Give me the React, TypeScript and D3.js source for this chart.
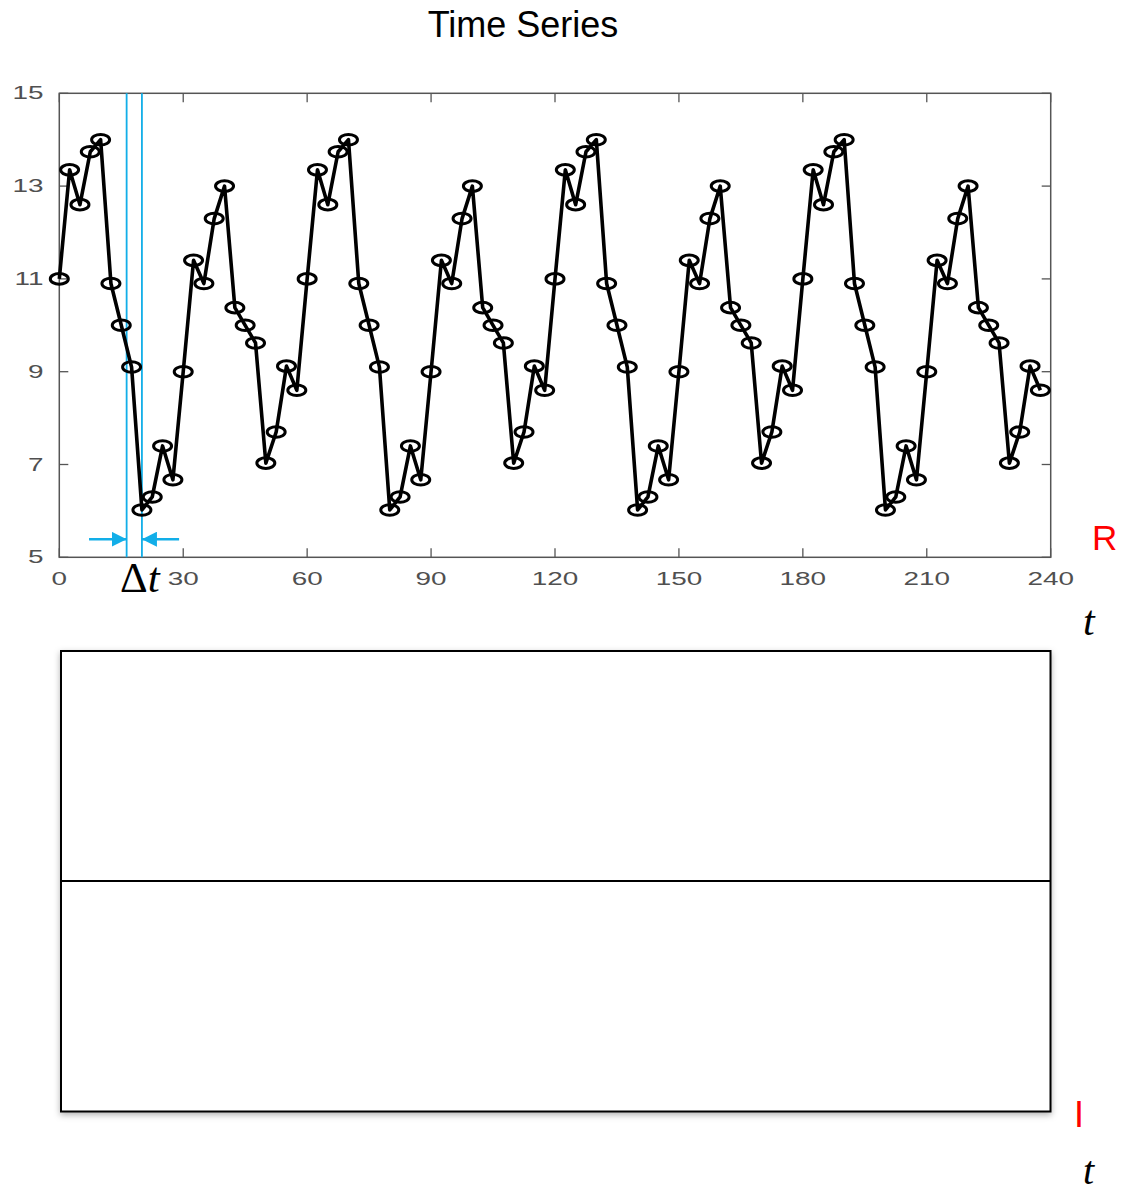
import * as React from 'react';
import * as d3 from 'd3';

// sample times (every 2.5 units) and the R values
const tValues = d3.range(0, 240, 2.5);
const rValues = [
  11.0, 13.35, 12.6, 13.74, 14.0, 10.9, 10.0, 9.1, 6.02, 6.3, 7.4, 6.67,
  9.0, 11.4, 10.9, 12.3, 13.0, 10.38, 10.0, 9.62, 7.03, 7.7, 9.12, 8.6,
  11.0, 13.35, 12.6, 13.74, 14.0, 10.9, 10.0, 9.1, 6.02, 6.3, 7.4, 6.67,
  9.0, 11.4, 10.9, 12.3, 13.0, 10.38, 10.0, 9.62, 7.03, 7.7, 9.12, 8.6,
  11.0, 13.35, 12.6, 13.74, 14.0, 10.9, 10.0, 9.1, 6.02, 6.3, 7.4, 6.67,
  9.0, 11.4, 10.9, 12.3, 13.0, 10.38, 10.0, 9.62, 7.03, 7.7, 9.12, 8.6,
  11.0, 13.35, 12.6, 13.74, 14.0, 10.9, 10.0, 9.1, 6.02, 6.3, 7.4, 6.67,
  9.0, 11.4, 10.9, 12.3, 13.0, 10.38, 10.0, 9.62, 7.03, 7.7, 9.12, 8.6,
];
const xTicks = [0, 30, 60, 90, 120, 150, 180, 210, 240];
const yTicks = [5, 7, 9, 11, 13, 15];
const deltaLines = [16.3, 20];
const arrowLevel = 5.39;
const arrowStarts = [7.2, 29];

const App = () => {
  const ref = React.useRef<SVGSVGElement>(null);

  React.useEffect(() => {
    const svg = d3.select(ref.current);
    svg.selectAll('*').remove();

    const left = 59.3, right = 1050.7, top = 93.3, bottom = 557.3;
    const x = d3.scaleLinear().domain([0, 240]).range([left, right]);
    const y = d3.scaleLinear().domain([5, 15]).range([bottom, top]);
    const axisColor = '#555';
    const blue = '#12aee8';
    const tick = 9;

    const defs = svg.append('defs');
    defs.append('filter').attr('id', 'shadow')
      .attr('x', '-5%').attr('y', '-5%').attr('width', '110%').attr('height', '110%')
      .append('feDropShadow')
      .attr('dx', 0).attr('dy', 2.5).attr('stdDeviation', 3)
      .attr('flood-color', '#000').attr('flood-opacity', 0.3);
    defs.append('marker').attr('id', 'head')
      .attr('viewBox', '0 0 10 10').attr('refX', 10).attr('refY', 5)
      .attr('markerWidth', 15).attr('markerHeight', 15)
      .attr('markerUnits', 'userSpaceOnUse').attr('orient', 'auto')
      .append('path').attr('d', 'M0,0L10,5L0,10Z').attr('fill', blue);

    // title
    svg.append('text')
      .attr('x', 523).attr('y', 37)
      .attr('text-anchor', 'middle')
      .attr('font-family', 'Liberation Sans, Arial, sans-serif')
      .attr('font-size', 36)
      .text('Time Series');

    // axes box
    svg.append('rect')
      .attr('x', left).attr('y', top)
      .attr('width', right - left).attr('height', bottom - top)
      .attr('fill', 'none').attr('stroke', axisColor).attr('stroke-width', 1.5);

    const tk = svg.append('g').attr('stroke', axisColor).attr('stroke-width', 1.3);
    xTicks.forEach(d => {
      tk.append('line').attr('x1', x(d)).attr('x2', x(d)).attr('y1', bottom).attr('y2', bottom - tick);
      tk.append('line').attr('x1', x(d)).attr('x2', x(d)).attr('y1', top).attr('y2', top + tick);
    });
    yTicks.forEach(d => {
      tk.append('line').attr('x1', left).attr('x2', left + tick).attr('y1', y(d)).attr('y2', y(d));
      tk.append('line').attr('x1', right).attr('x2', right - tick).attr('y1', y(d)).attr('y2', y(d));
    });

    const labels = svg.append('g')
      .attr('font-family', 'Liberation Sans, Arial, sans-serif')
      .attr('font-size', 18)
      .attr('fill', '#505050');
    labels.selectAll('text.xl')
      .data(xTicks)
      .enter().append('text')
      .attr('class', 'xl')
      .attr('text-anchor', 'middle')
      .attr('transform', d => `translate(${x(d)},584.5) scale(1.55,1)`)
      .text(d => d);
    labels.selectAll('text.yl')
      .data(yTicks)
      .enter().append('text')
      .attr('class', 'yl')
      .attr('text-anchor', 'end')
      .attr('transform', d => `translate(43.5,${y(d) + 6}) scale(1.55,1)`)
      .text(d => d);

    // delta t guides
    svg.append('g').selectAll('line')
      .data(deltaLines)
      .enter().append('line')
      .attr('x1', d => x(d)).attr('x2', d => x(d))
      .attr('y1', top).attr('y2', bottom)
      .attr('stroke', blue).attr('stroke-width', 1.8);
    svg.append('g').selectAll('line')
      .data(arrowStarts)
      .enter().append('line')
      .attr('x1', d => x(d))
      .attr('x2', (d, i) => x(deltaLines[i]))
      .attr('y1', y(arrowLevel)).attr('y2', y(arrowLevel))
      .attr('stroke', blue).attr('stroke-width', 2.5)
      .attr('marker-end', 'url(#head)');

    // series
    const pts = tValues.map((t, i) => [t, rValues[i]] as [number, number]);
    const line = d3.line<[number, number]>().x(d => x(d[0])).y(d => y(d[1]));
    svg.append('path')
      .datum(pts)
      .attr('d', line)
      .attr('fill', 'none')
      .attr('stroke', '#000')
      .attr('stroke-width', 3.6)
      .attr('stroke-linejoin', 'round');
    svg.append('g').selectAll('ellipse')
      .data(pts)
      .enter().append('ellipse')
      .attr('cx', d => x(d[0])).attr('cy', d => y(d[1]))
      .attr('rx', 9).attr('ry', 5.3)
      .attr('fill', 'none').attr('stroke', '#000').attr('stroke-width', 3);

    // Δt label
    const dt = svg.append('text')
      .attr('x', 120).attr('y', 591.5)
      .attr('font-family', 'Liberation Serif, Times New Roman, serif')
      .attr('font-size', 43);
    dt.append('tspan').text('Δ');
    dt.append('tspan').attr('font-style', 'italic').text('t');

    const red = '#ff0000';
    svg.append('text').attr('x', 1092).attr('y', 550)
      .attr('font-family', 'Liberation Sans, Arial, sans-serif')
      .attr('font-size', 35).attr('fill', red).text('R');
    svg.append('text').attr('x', 1083).attr('y', 635)
      .attr('font-family', 'Liberation Serif, Times New Roman, serif')
      .attr('font-style', 'italic')
      .attr('font-size', 42).text('t');

    // empty lower panel
    const panel = svg.append('g').attr('filter', 'url(#shadow)')
      .attr('fill', 'none').attr('stroke', '#000').attr('stroke-width', 2);
    panel.append('rect')
      .attr('x', 61).attr('y', 651)
      .attr('width', 1050.5 - 61).attr('height', 1111.5 - 651)
      .attr('fill', '#fff');
    panel.append('line')
      .attr('x1', 61).attr('x2', 1050.5)
      .attr('y1', 881).attr('y2', 881);

    svg.append('text').attr('x', 1079).attr('y', 1127)
      .attr('text-anchor', 'middle')
      .attr('font-family', 'Liberation Sans, Arial, sans-serif')
      .attr('font-size', 36).attr('fill', red).text('I');
    svg.append('text').attr('x', 1083).attr('y', 1184)
      .attr('font-family', 'Liberation Serif, Times New Roman, serif')
      .attr('font-style', 'italic')
      .attr('font-size', 40).text('t');
  }, []);

  return (
    <svg ref={ref} width={1122} height={1194}
      style={{position: 'absolute', left: 0, top: 0, background: '#fff'}}></svg>
  );
};

export default App;
